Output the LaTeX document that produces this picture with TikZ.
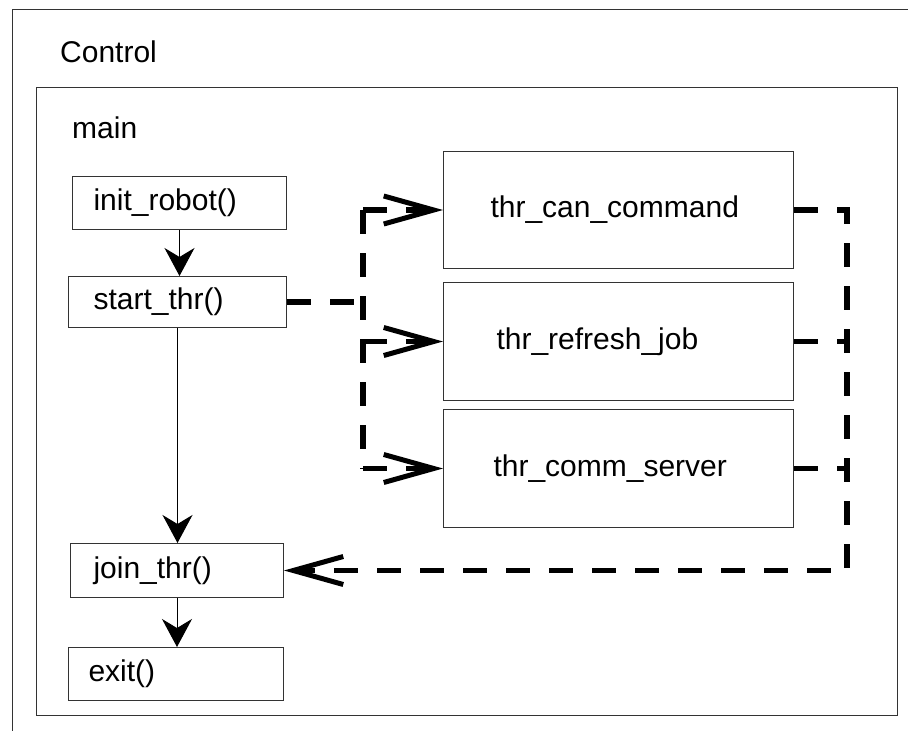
\documentclass[tikz,border=0pt]{standalone}
\usepackage{fontspec}
\setmainfont{Liberation Sans}
\usetikzlibrary{arrows.meta,calc}
\tikzset{
  frameline/.style={draw=gray!40!black, line width=1pt},
  procbox/.style={draw=gray!40!black, line width=1pt, anchor=north west, align=left,
    inner ysep=0pt, font=\fontsize{30}{34}\selectfont},
  lbl/.style={anchor=base west, inner sep=0pt, font=\fontsize{30}{34}\selectfont},
  flow/.style={draw=black, line width=1pt, -{Stealth[length=28pt, width=30pt, inset=9pt]}},
  dsh/.style={draw=black, line width=5.5pt, dash pattern=on 24pt off 19pt},
  barbtip/.style={-{Straight Barb[length=50pt, width=28pt, line width=5pt]}}
}
\begin{document}
\begin{tikzpicture}[x=1pt, y=-1pt]
\useasboundingbox (0,0) rectangle (908,731);
% outer frame (partially visible)
\draw[frameline] (12.5,731) -- (12.5,9.5) -- (908,9.5);
\node[lbl] (ctl) at (60,62) {Control};
% inner frame
\draw[frameline] (36,87) rectangle (897,715);
\node[lbl] (mainlbl) at (72,138) {main};
% left column
\node[procbox, minimum height=53pt, inner xsep=21pt, text width=172pt] (init) at (72,176) {init\_robot()};
\node[procbox, minimum height=51pt, inner xsep=25pt, text width=168pt] (start) at (68,276) {start\_thr()};
\node[procbox, minimum height=54pt, inner xsep=23pt, text width=167pt] (join) at (70,543) {join\_thr()};
\node[procbox, minimum height=53pt, inner xsep=20pt, text width=175pt] (exit) at (68,647) {exit()};
% thread boxes
\node[procbox, minimum height=117pt, inner xsep=47pt, text width=256pt] (can) at (443,151) {thr\_can\_command};
\node[procbox, minimum height=118pt, inner xsep=53pt, text width=244pt] (refresh) at (443,282) {thr\_refresh\_job};
\node[procbox, minimum height=118pt, inner xsep=50pt, text width=250pt] (comm) at (443,409) {thr\_comm\_server};
% bus coordinates
\coordinate (lbus) at (363,0);
\coordinate (rbus) at (847,0);
% solid flow arrows
\draw[flow] (init.south) -- (init.south |- start.north);
\draw[flow] (start.south) -- (start.south |- join.north);
\draw[flow] (join.south) -- (join.south |- exit.north);
% dashed fork
\draw[dsh] (start.east) -- (lbus |- start.east);
\draw[dsh] (lbus |- can.west) -- (lbus |- comm.west);
\draw[dsh, barbtip] (lbus |- can.west) -- (can.west);
\draw[dsh, barbtip] (lbus |- refresh.west) -- (refresh.west);
\draw[dsh, barbtip] (lbus |- comm.west) -- (comm.west);
% dashed join
\draw[dsh] (refresh.east) -- (rbus |- refresh.east);
\draw[dsh] (comm.east) -- (rbus |- comm.east);
\draw[dsh, barbtip] (can.east) -- (rbus |- can.east) -- (rbus |- join.east) -- (join.east);
\end{tikzpicture}
\end{document}
